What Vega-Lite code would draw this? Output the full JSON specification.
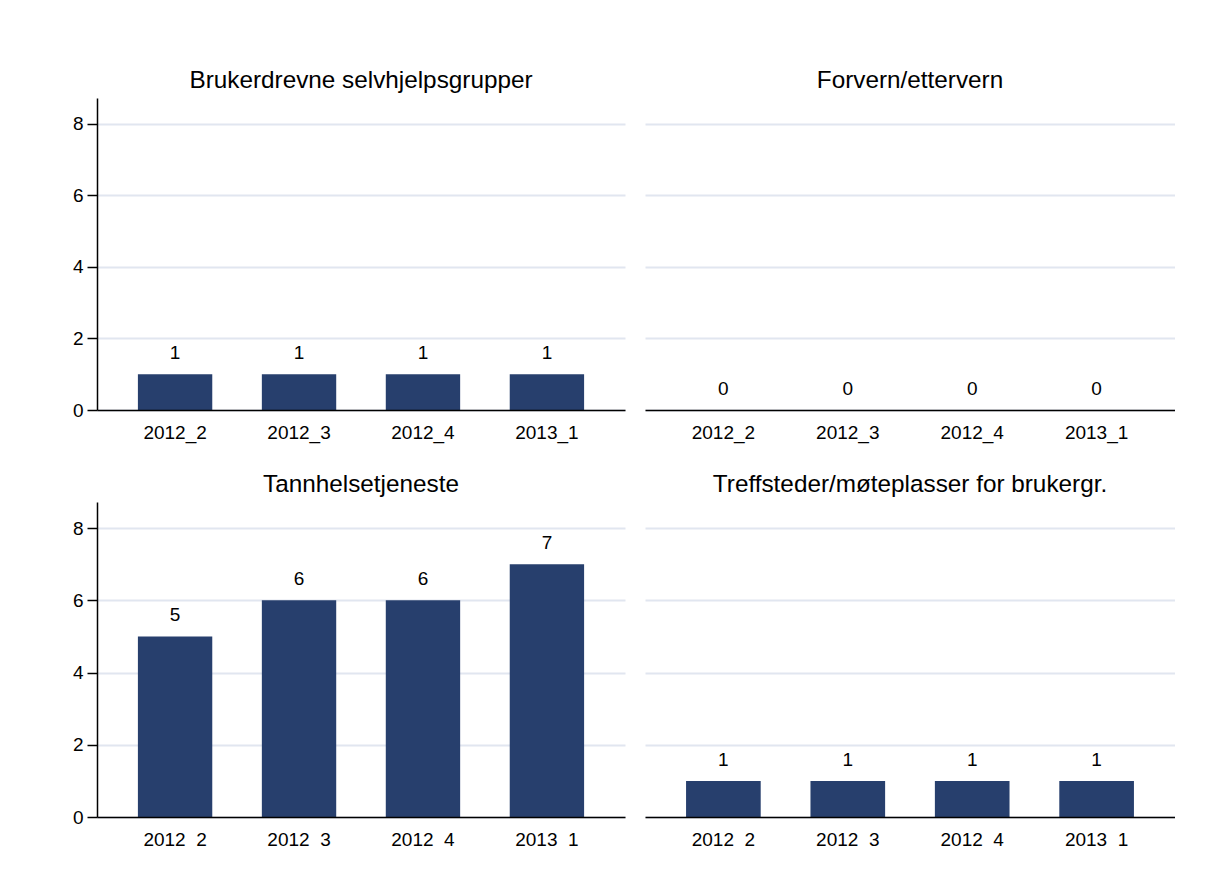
{
  "$schema": "https://vega.github.io/schema/vega-lite/v6.json",
  "background": "white",
  "padding": {"left": 72, "top": 68, "right": 0, "bottom": 0},
  "autosize": {"type": "pad"},
  "data": {"values": [
    {"panel": "Brukerdrevne selvhjelpsgrupper", "period": "2012_2", "value": 1},
    {"panel": "Brukerdrevne selvhjelpsgrupper", "period": "2012_3", "value": 1},
    {"panel": "Brukerdrevne selvhjelpsgrupper", "period": "2012_4", "value": 1},
    {"panel": "Brukerdrevne selvhjelpsgrupper", "period": "2013_1", "value": 1},
    {"panel": "Forvern/ettervern", "period": "2012_2", "value": 0},
    {"panel": "Forvern/ettervern", "period": "2012_3", "value": 0},
    {"panel": "Forvern/ettervern", "period": "2012_4", "value": 0},
    {"panel": "Forvern/ettervern", "period": "2013_1", "value": 0},
    {"panel": "Tannhelsetjeneste", "period": "2012_2", "value": 5},
    {"panel": "Tannhelsetjeneste", "period": "2012_3", "value": 6},
    {"panel": "Tannhelsetjeneste", "period": "2012_4", "value": 6},
    {"panel": "Tannhelsetjeneste", "period": "2013_1", "value": 7},
    {"panel": "Treffsteder/møteplasser for brukergr.", "period": "2012_2", "value": 1},
    {"panel": "Treffsteder/møteplasser for brukergr.", "period": "2012_3", "value": 1},
    {"panel": "Treffsteder/møteplasser for brukergr.", "period": "2012_4", "value": 1},
    {"panel": "Treffsteder/møteplasser for brukergr.", "period": "2013_1", "value": 1}
  ]},
  "spacing": 30,
  "vconcat": [
    {
      "spacing": 20,
      "hconcat": [
        {
          "width": 528, "height": 312,
          "transform": [{"filter": "datum.panel === 'Brukerdrevne selvhjelpsgrupper'"}],
          "title": {"text": "Brukerdrevne selvhjelpsgrupper"},
          "encoding": {
            "x": {"field": "period", "type": "nominal", "sort": null, "scale": {"paddingInner": 0.4, "paddingOuter": 0.33}, "axis": {"zindex": 1}},
            "y": {"field": "value", "type": "quantitative", "scale": {"domain": [0, 8.72], "nice": false, "zero": true}, "axis": {"values": [0, 2, 4, 6, 8]}}
          },
          "layer": [
            {"mark": {"type": "bar", "color": "#273f6d"}},
            {"mark": {"type": "text", "dy": -15, "baseline": "alphabetic", "fontSize": 19, "color": "black"}, "encoding": {"text": {"field": "value", "type": "quantitative"}}}
          ]
        },
        {
          "width": 530, "height": 312,
          "transform": [{"filter": "datum.panel === 'Forvern/ettervern'"}],
          "title": {"text": "Forvern/ettervern"},
          "encoding": {
            "x": {"field": "period", "type": "nominal", "sort": null, "scale": {"paddingInner": 0.4, "paddingOuter": 0.33}, "axis": {"zindex": 1}},
            "y": {"field": "value", "type": "quantitative", "scale": {"domain": [0, 8.72], "nice": false, "zero": true}, "axis": {"values": [0, 2, 4, 6, 8], "labels": false, "ticks": false, "domain": false}}
          },
          "layer": [
            {"mark": {"type": "bar", "color": "#273f6d"}},
            {"mark": {"type": "text", "dy": -15, "baseline": "alphabetic", "fontSize": 19, "color": "black"}, "encoding": {"text": {"field": "value", "type": "quantitative"}}}
          ]
        }
      ]
    },
    {
      "spacing": 20,
      "hconcat": [
        {
          "width": 528, "height": 315,
          "transform": [{"filter": "datum.panel === 'Tannhelsetjeneste'"}],
          "title": {"text": "Tannhelsetjeneste"},
          "encoding": {
            "x": {"field": "period", "type": "nominal", "sort": null, "scale": {"paddingInner": 0.4, "paddingOuter": 0.33}, "axis": {"zindex": 1}},
            "y": {"field": "value", "type": "quantitative", "scale": {"domain": [0, 8.72], "nice": false, "zero": true}, "axis": {"values": [0, 2, 4, 6, 8]}}
          },
          "layer": [
            {"mark": {"type": "bar", "color": "#273f6d"}},
            {"mark": {"type": "text", "dy": -15, "baseline": "alphabetic", "fontSize": 19, "color": "black"}, "encoding": {"text": {"field": "value", "type": "quantitative"}}}
          ]
        },
        {
          "width": 530, "height": 315,
          "transform": [{"filter": "datum.panel === 'Treffsteder/møteplasser for brukergr.'"}],
          "title": {"text": "Treffsteder/møteplasser for brukergr."},
          "encoding": {
            "x": {"field": "period", "type": "nominal", "sort": null, "scale": {"paddingInner": 0.4, "paddingOuter": 0.33}, "axis": {"zindex": 1}},
            "y": {"field": "value", "type": "quantitative", "scale": {"domain": [0, 8.72], "nice": false, "zero": true}, "axis": {"values": [0, 2, 4, 6, 8], "labels": false, "ticks": false, "domain": false}}
          },
          "layer": [
            {"mark": {"type": "bar", "color": "#273f6d"}},
            {"mark": {"type": "text", "dy": -15, "baseline": "alphabetic", "fontSize": 19, "color": "black"}, "encoding": {"text": {"field": "value", "type": "quantitative"}}}
          ]
        }
      ]
    }
  ],
  "config": {
    "font": "Liberation Sans",
    "view": {"stroke": null},
    "title": {"fontSize": 24.3, "fontWeight": "normal", "color": "black", "anchor": "middle", "offset": 5, "font": "Liberation Sans"},
    "axis": {
      "title": null,
      "labelFont": "Liberation Sans",
      "labelFontSize": 19,
      "labelColor": "black",
      "domainColor": "black",
      "domainWidth": 1.5,
      "tickColor": "black",
      "tickWidth": 1.5,
      "gridColor": "#e1e6f0",
      "gridWidth": 2
    },
    "axisX": {"ticks": false, "labelPadding": 13, "labelAngle": 0, "grid": false},
    "axisY": {"grid": true, "tickSize": 10, "labelPadding": 4}
  }
}
